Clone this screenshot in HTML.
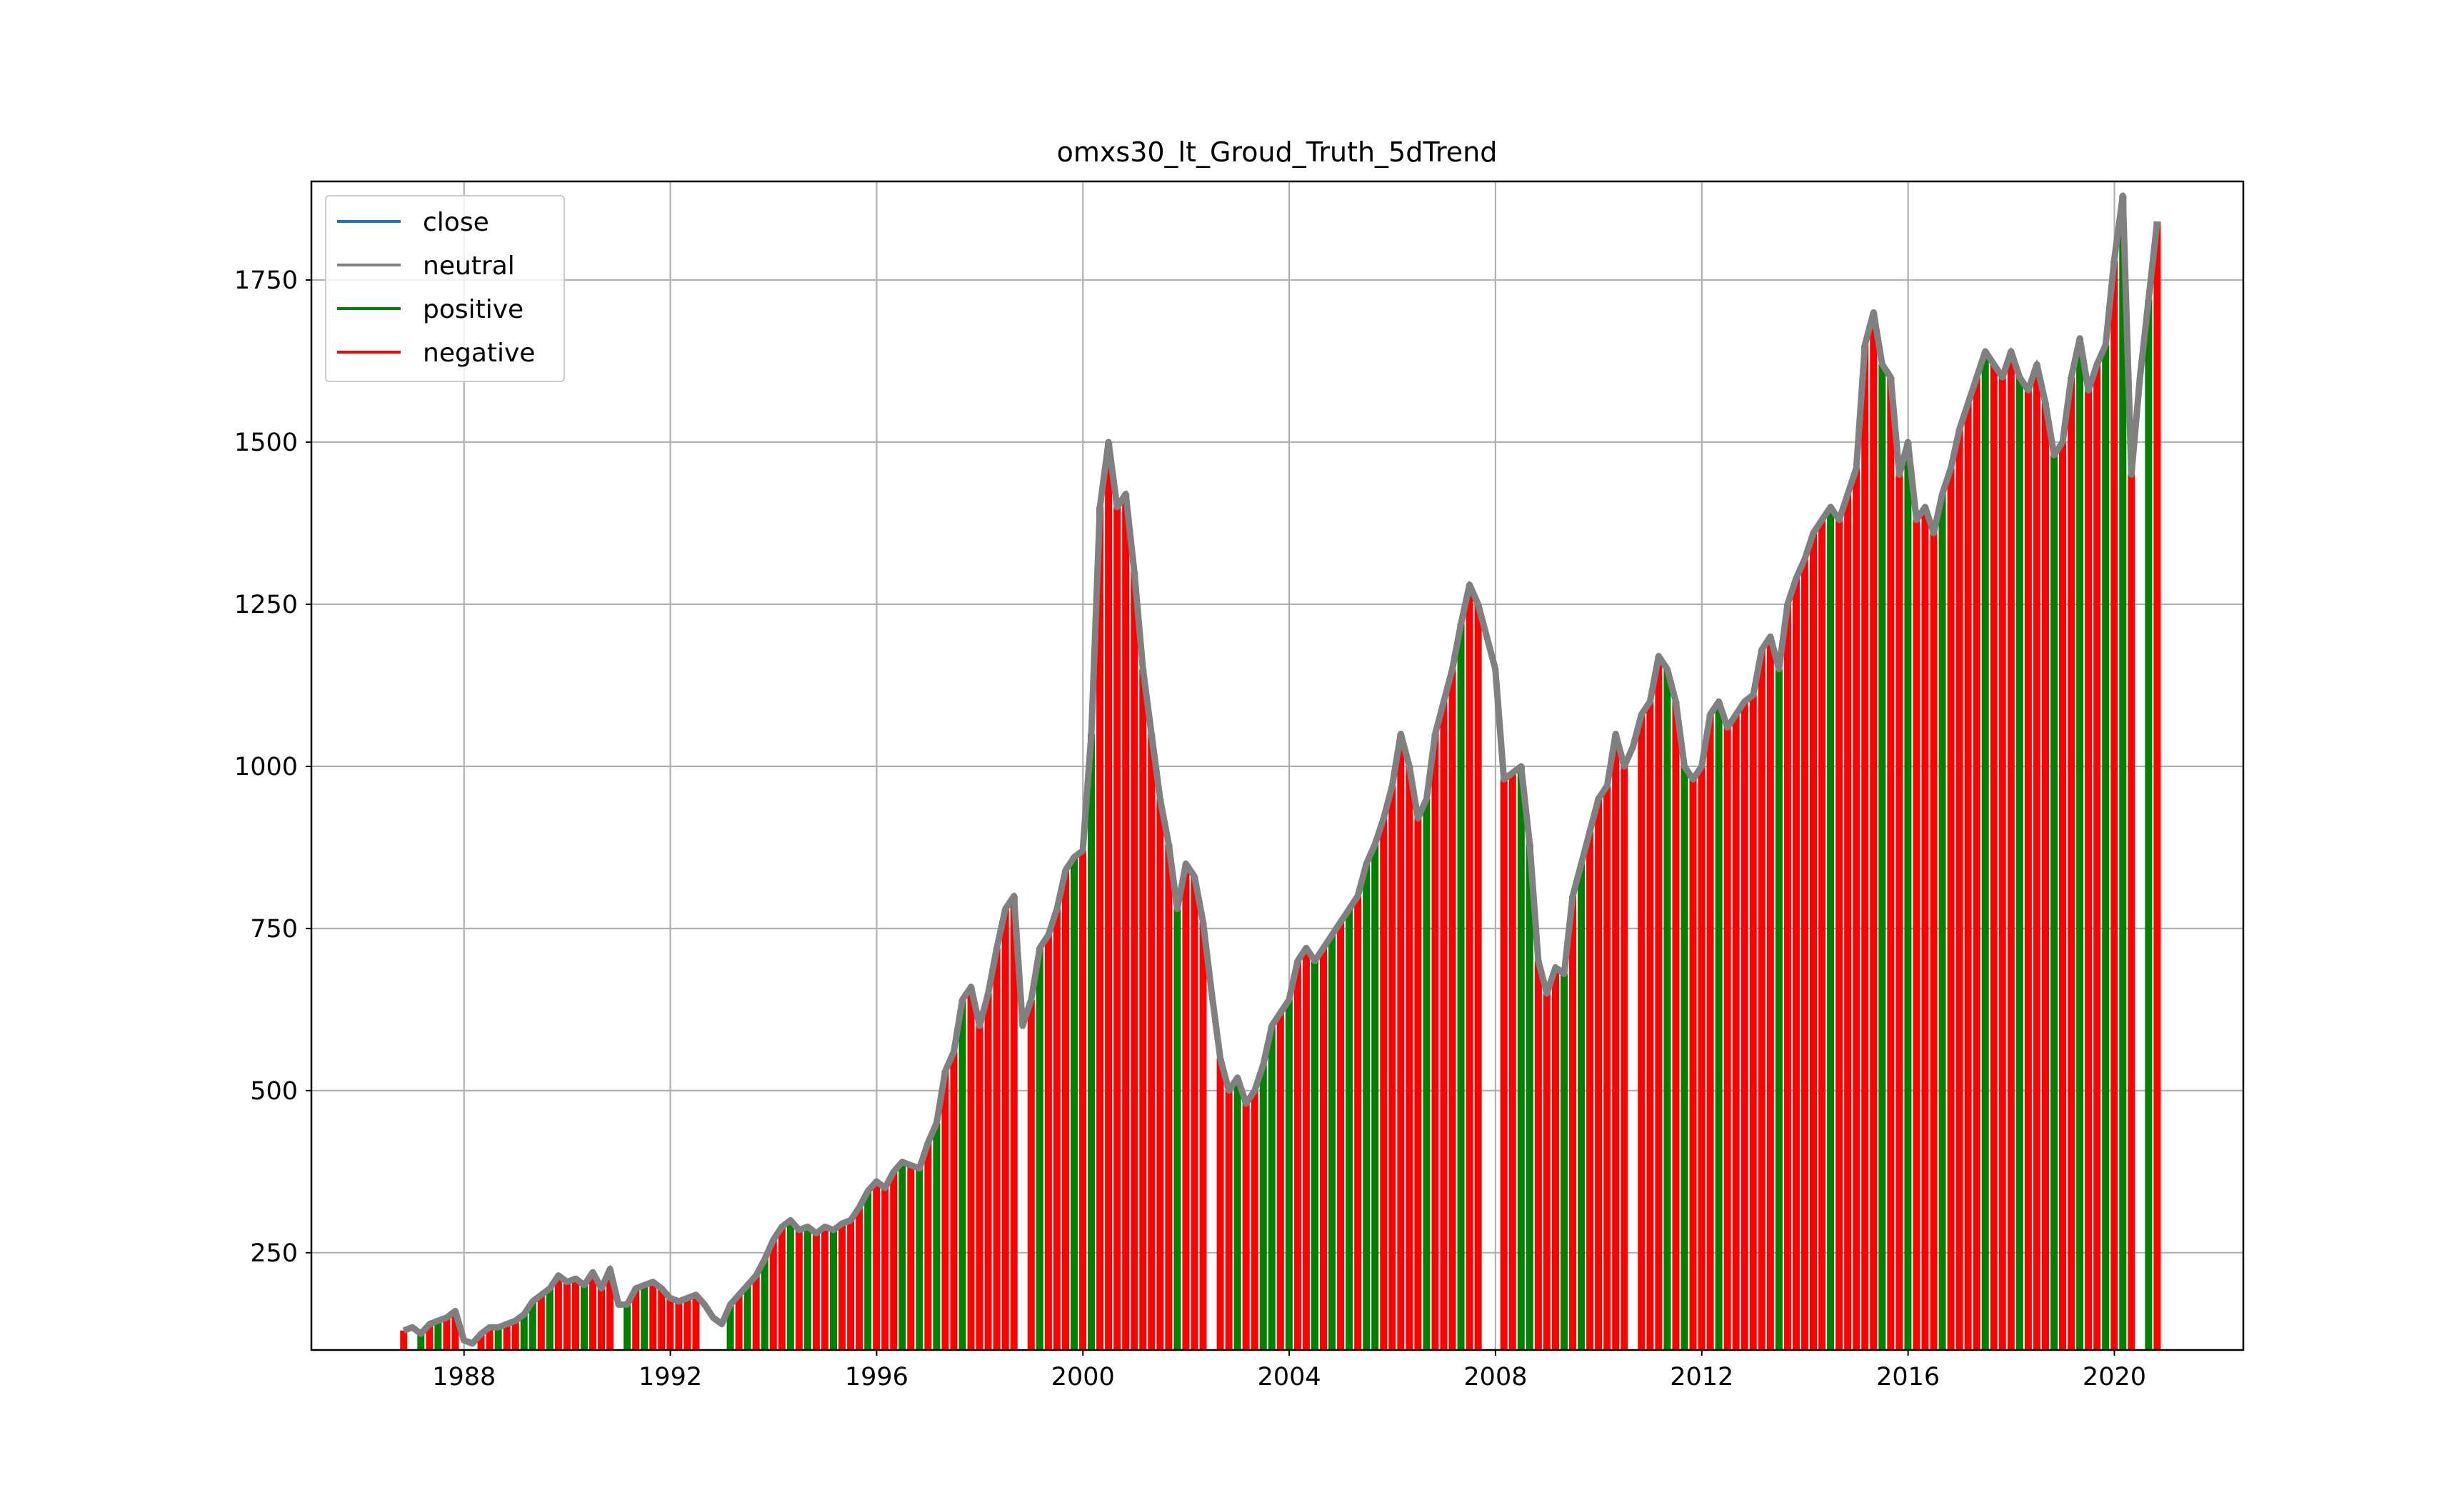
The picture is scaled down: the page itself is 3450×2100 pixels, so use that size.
<!DOCTYPE html>
<html><head><meta charset="utf-8">
<style>
html,body{margin:0;padding:0;background:#fff;}
svg{display:block;font-family:"DejaVu Sans","Liberation Sans",sans-serif;}
</style></head>
<body>
<svg id="chart" width="3450" height="2100" viewBox="0 0 3450 2100" xmlns="http://www.w3.org/2000/svg">
<rect width="3450" height="2100" fill="#fff"/>
<text x="1788" y="226" font-size="38" text-anchor="middle" fill="#000">omxs30_lt_Groud_Truth_5dTrend</text>
<g id="grid"></g>
<g id="bars"></g>
<g id="lines"></g>
<rect x="436" y="254" width="2705" height="1636" fill="none" stroke="#000" stroke-width="2.5"/>
<g id="ticks"></g>
<g>
<rect x="456" y="274" width="334" height="260" fill="#fff" fill-opacity="0.8" stroke="#ccc" stroke-width="2" rx="5"/>
<g><line x1="472" y1="310" x2="561" y2="310" stroke="#1f77b4" stroke-width="4"/><text x="592" y="323" font-size="36">close</text></g>
<g><line x1="472" y1="371" x2="561" y2="371" stroke="#808080" stroke-width="4"/><text x="592" y="384" font-size="36">neutral</text></g>
<g><line x1="472" y1="432" x2="561" y2="432" stroke="#008000" stroke-width="4"/><text x="592" y="445" font-size="36">positive</text></g>
<g><line x1="472" y1="493" x2="561" y2="493" stroke="#ff0000" stroke-width="4"/><text x="592" y="506" font-size="36">negative</text></g>
</g>
</svg>
<script>
const startYear = 1986.83;
const stepYears = 1/6;
const closeValues = [
130,135,
125,140,145,150,160,115,
110,125,135,135,140,145,
155,175,185,195,215,205,
210,200,220,195,225,170,
170,195,200,205,195,180,
175,180,185,170,150,140,
170,185,200,215,240,270,
290,300,285,290,280,290,
285,295,300,320,345,360,
350,375,390,385,380,420,
450,530,560,640,660,600,
650,720,780,800,600,640,
720,740,780,840,860,870,
1050,1400,1500,1400,1420,1300,
1150,1050,950,880,780,850,
830,760,650,550,500,520,
480,500,540,600,620,640,
700,720,700,720,740,760,
780,800,850,880,920,970,
1050,1000,920,950,1050,1100,
1150,1220,1280,1250,1200,1150,
980,990,1000,880,700,650,
690,680,800,850,900,950,
970,1050,1000,1030,1080,1100,
1170,1150,1100,1000,980,1000,
1080,1100,1060,1080,1100,1110,
1180,1200,1150,1250,1290,1320,
1360,1380,1400,1380,1420,1460,
1650,1700,1620,1600,1450,1500,
1380,1400,1360,1420,1460,1520,
1560,1600,1640,1620,1600,1640,
1600,1580,1620,1560,1480,1500,
1600,1660,1580,1620,1650,1780,
1880,1450,1600,1720,1840
];
const trendLabels = (
"rn"+
"prprrn"+
"nrrprr"+
"pprprr"+
"rprrrn"+
"prprrr"+
"rrrnnn"+
"prprpr"+
"rprprr"+
"prrrpr"+
"rrprpr"+
"prrprr"+
"rrrrnr"+
"prrrpr"+
"prrrrr"+
"rrrrpr"+
"rrnrrp"+
"rrpprp"+
"rrprpr"+
"prpprr"+
"rrrprr"+
"rprrnn"+
"rrpprr"+
"rprprr"+
"rrrnrr"+
"rprprr"+
"rprrrr"+
"rrprrr"+
"rrprrr"+
"rrprrp"+
"rrrprr"+
"rrprrr"+
"prrrpr"+
"rprrpr"+
"prnpr"
).split("");
const xTickLabels = ["1988","1992","1996","2000","2004","2008","2012","2016","2020"];
const yTickLabels = ["250","500","750","1000","1250","1500","1750"];

const L=436,R=3141,T=254,B=1890;
const xMin=1985.04,xMax=2022.5,yMin=100,yMax=1902;
const xs=v=>L+(v-xMin)/(xMax-xMin)*(R-L);
const ys=v=>B-(v-yMin)/(yMax-yMin)*(B-T);
const NS="http://www.w3.org/2000/svg";
function mk(tag,attrs,parent){const e=document.createElementNS(NS,tag);for(const k in attrs)e.setAttribute(k,attrs[k]);parent.appendChild(e);return e;}

const grid=document.getElementById('grid'),ticks=document.getElementById('ticks');
xTickLabels.forEach(t=>{
  const x=xs(+t);
  const g=mk('line',{x1:x,x2:x,y1:T,y2:B,stroke:'#b0b0b0','stroke-width':2.2},grid);
  
  
  mk('line',{x1:x,x2:x,y1:B,y2:B+8,stroke:'#000','stroke-width':2},ticks);
  const tx=mk('text',{x:x,y:B+49,'font-size':35,'text-anchor':'middle'},ticks);
  tx.textContent=t;
  
  
});
yTickLabels.forEach(t=>{
  const y=ys(+t);
  const g=mk('line',{x1:L,x2:R,y1:y,y2:y,stroke:'#b0b0b0','stroke-width':2.2},grid);
  
  
  mk('line',{x1:L-8,x2:L,y1:y,y2:y,stroke:'#000','stroke-width':2},ticks);
  const tx=mk('text',{x:L-19,y:y+12,'font-size':35,'text-anchor':'end'},ticks);
  tx.textContent=t;
  
  
});

const bars=document.getElementById('bars'),lines=document.getElementById('lines');
const colors={p:'#008000',r:'#ff0000'};
closeValues.forEach((v,i)=>{
  const lab=trendLabels[i]||'n';
  if(lab==='n')return;
  const x=xs(startYear+i*stepYears);
  const b=mk('rect',{x:x-5,y:ys(v),width:10,height:B-ys(v),fill:colors[lab]},bars);
  
  
});
let d='';
closeValues.forEach((v,i)=>{d+=(i?'L':'M')+xs(startYear+i*stepYears).toFixed(1)+','+ys(v).toFixed(1);});
const cl=mk('path',{d:d,fill:'none',stroke:'#1f77b4','stroke-width':4},lines);


const nl=mk('path',{d:d,fill:'none',stroke:'#808080','stroke-width':9,'stroke-linejoin':'round'},lines);


</script>
</body></html>
